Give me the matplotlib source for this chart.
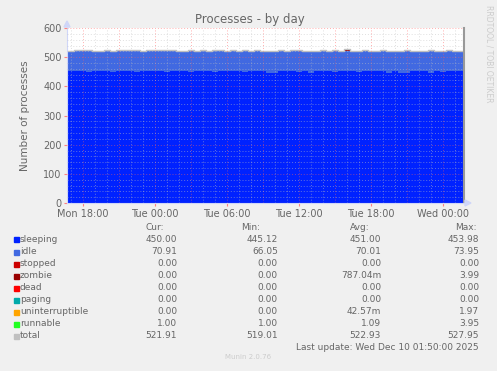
import numpy as np
import matplotlib
matplotlib.use("Agg")
import matplotlib.pyplot as plt

# time in hours since Mon 00:00, 30 min steps
hours = [16.75 + 0.5 * i for i in range(67)]

sleeping = [451, 452, 451, 450, 452, 453, 451, 450, 451, 452,
            451, 450, 451, 452, 451, 451, 450, 451, 452, 451,
            450, 451, 452, 451, 450, 451, 451, 452, 451, 450,
            451, 452, 451, 446, 447, 451, 452, 451, 450, 451,
            447, 451, 452, 451, 450, 451, 452, 451, 450, 451,
            451, 452, 451, 446, 451, 445, 447, 451, 452, 451,
            447, 451, 450, 451, 452, 451, 450]
idle = [70, 71, 70, 72, 69, 68, 70, 71, 70, 69,
        71, 72, 70, 69, 70, 71, 73, 70, 69, 70,
        71, 70, 69, 70, 72, 71, 70, 69, 70, 71,
        70, 69, 70, 74, 73, 70, 69, 70, 71, 70,
        73, 70, 69, 70, 71, 70, 69, 70, 71, 70,
        70, 69, 70, 74, 70, 75, 73, 70, 69, 70,
        73, 70, 71, 70, 69, 70, 71]
zombie = [0, 0, 1, 0, 0, 0, 2, 0, 0, 1,
          0, 0, 0, 1, 0, 0, 0, 4, 0, 0,
          1, 0, 0, 0, 2, 0, 0, 1, 0, 0,
          0, 3, 0, 0, 0, 1, 0, 0, 2, 0,
          0, 0, 1, 0, 0, 0, 3, 0, 0, 1,
          0, 0, 2, 0, 0, 0, 1, 0, 0, 0,
          2, 0, 0, 1, 0, 0, 0]
uninterruptible = [0] * 20 + [1] + [0] * 25 + [2] + [0] * 20
runnable = [1, 1, 1, 2, 1, 1, 1, 1, 3, 1,
            1, 1, 1, 1, 2, 1, 1, 1, 1, 1,
            1, 1, 4, 1, 1, 1, 1, 1, 1, 2,
            1, 1, 1, 1, 1, 1, 1, 3, 1, 1,
            1, 1, 1, 1, 2, 1, 1, 1, 1, 1,
            1, 1, 1, 1, 1, 1, 2, 1, 1, 1,
            1, 1, 1, 1, 1, 1, 1]
zeros = [0] * 67

names = ["sleeping", "idle", "stopped", "zombie", "dead", "paging",
         "uninterruptible", "runnable", "total"]
colors = ["#0022ff", "#4169e1", "#cc0000", "#990000", "#ff0000", "#00aaaa",
          "#ffa500", "#22ff22", "#c0c0c0"]
cur = ["450.00", "70.91", "0.00", "0.00", "0.00", "0.00", "0.00", "1.00", "521.91"]
mins = ["445.12", "66.05", "0.00", "0.00", "0.00", "0.00", "0.00", "1.00", "519.01"]
avgs = ["451.00", "70.01", "0.00", "787.04m", "0.00", "0.00", "42.57m", "1.09", "522.93"]
maxs = ["453.98", "73.95", "0.00", "3.99", "0.00", "0.00", "1.97", "3.95", "527.95"]

tick_hours = [18, 24, 30, 36, 42, 48]
tick_labels = ["Mon 18:00", "Tue 00:00", "Tue 06:00", "Tue 12:00", "Tue 18:00", "Wed 00:00"]

W, H = 497, 371
fig = plt.figure(figsize=(W / 100, H / 100), dpi=100, facecolor="#f0f0f0")
plt.rcParams["font.family"] = "DejaVu Sans"
fc = "#666666"

ax = fig.add_axes([67 / W, 1 - 203 / H, 397 / W, 175 / H])
ax.set_facecolor("white")

series = [sleeping, idle, zeros, zombie, zeros, zeros, uninterruptible, runnable]
base = np.zeros(len(hours))
for vals, col in zip(series, colors[:8]):
    top = base + np.array(vals)
    ax.fill_between(hours, base, top, step="post", color=col, lw=0, zorder=1)
    base = top
ax.step(hours, base, where="post", color=colors[8], lw=1, zorder=2)

x0, x1 = 16.67, 49.75
ax.set_xlim(x0, x1)
ax.set_ylim(0, 600)

# grid
for h in range(17, 50):
    if h % 3 == 0:
        ax.axvline(h, color="#ff5f5f", alpha=0.5, lw=0.7, ls=(0, (1, 2)), zorder=3)
    else:
        ax.axvline(h, color="#c0c0c0", alpha=0.5, lw=0.7, ls=(0, (1, 2)), zorder=3)
for v in range(20, 601, 20):
    if v % 100 == 0:
        ax.axhline(v, color="#ff5f5f", alpha=0.5, lw=0.7, ls=(0, (1, 2)), zorder=3)
    else:
        ax.axhline(v, color="#c0c0c0", alpha=0.5, lw=0.7, ls=(0, (1, 2)), zorder=3)

ax.spines["top"].set_visible(False)
ax.spines["left"].set_color("#cfd6f8")
ax.spines["bottom"].set_color("#cfd6f8")
ax.spines["right"].set_color("#999999")
ax.spines["right"].set_linewidth(1.5)

ax.set_xticks(tick_hours)
ax.set_xticklabels(tick_labels)
ax.set_yticks(range(0, 601, 100))
ax.tick_params(axis="both", colors=fc, labelsize=7, length=2, width=0.8, pad=2)
ax.tick_params(axis="both", color="#ff8080")
ax.set_ylabel("Number of processes", color=fc, fontsize=7.5, labelpad=9)

# arrows at axis ends
fig.patches.append(plt.Polygon([[64 / W, 1 - 27 / H], [70 / W, 1 - 27 / H], [67 / W, 1 - 21 / H]],
                               closed=True, color="#cfd6f8", transform=fig.transFigure))
fig.patches.append(plt.Polygon([[465 / W, 1 - 200 / H], [465 / W, 1 - 206 / H], [471 / W, 1 - 203 / H]],
                               closed=True, color="#cfd6f8", transform=fig.transFigure))

fig.text(250 / W, 1 - 20 / H, "Processes - by day", ha="center", va="center", fontsize=8.5, color=fc)
fig.text(489 / W, 1 - 5 / H, "RRDTOOL / TOBI OETIKER", ha="center", va="top",
         rotation=-90, fontsize=5.5, color="#cccccc")

# legend table
fs = 6.5
fig.text(164 / W, 1 - 227 / H, "Cur:", ha="right", va="center", fontsize=fs, color=fc)
fig.text(260 / W, 1 - 227 / H, "Min:", ha="right", va="center", fontsize=fs, color=fc)
fig.text(370 / W, 1 - 227 / H, "Avg:", ha="right", va="center", fontsize=fs, color=fc)
fig.text(477 / W, 1 - 227 / H, "Max:", ha="right", va="center", fontsize=fs, color=fc)
for i, name in enumerate(names):
    y = 1 - (240 + 12 * i) / H
    fig.patches.append(plt.Rectangle((14 / W, y - 2.5 / H), 5 / W, 5 / H, color=colors[i],
                                     transform=fig.transFigure))
    fig.text(20 / W, y, name, ha="left", va="center", fontsize=fs, color=fc)
    fig.text(177 / W, y, cur[i], ha="right", va="center", fontsize=fs, color=fc)
    fig.text(278 / W, y, mins[i], ha="right", va="center", fontsize=fs, color=fc)
    fig.text(381 / W, y, avgs[i], ha="right", va="center", fontsize=fs, color=fc)
    fig.text(479 / W, y, maxs[i], ha="right", va="center", fontsize=fs, color=fc)
fig.text(479 / W, 1 - 348 / H, "Last update: Wed Dec 10 01:50:00 2025", ha="right", va="center",
         fontsize=fs, color=fc)
fig.text(248 / W, 1 - 357 / H, "Munin 2.0.76", ha="center", va="center", fontsize=5, color="#cccccc")

fig.savefig("out.png", dpi=100, facecolor=fig.get_facecolor())
